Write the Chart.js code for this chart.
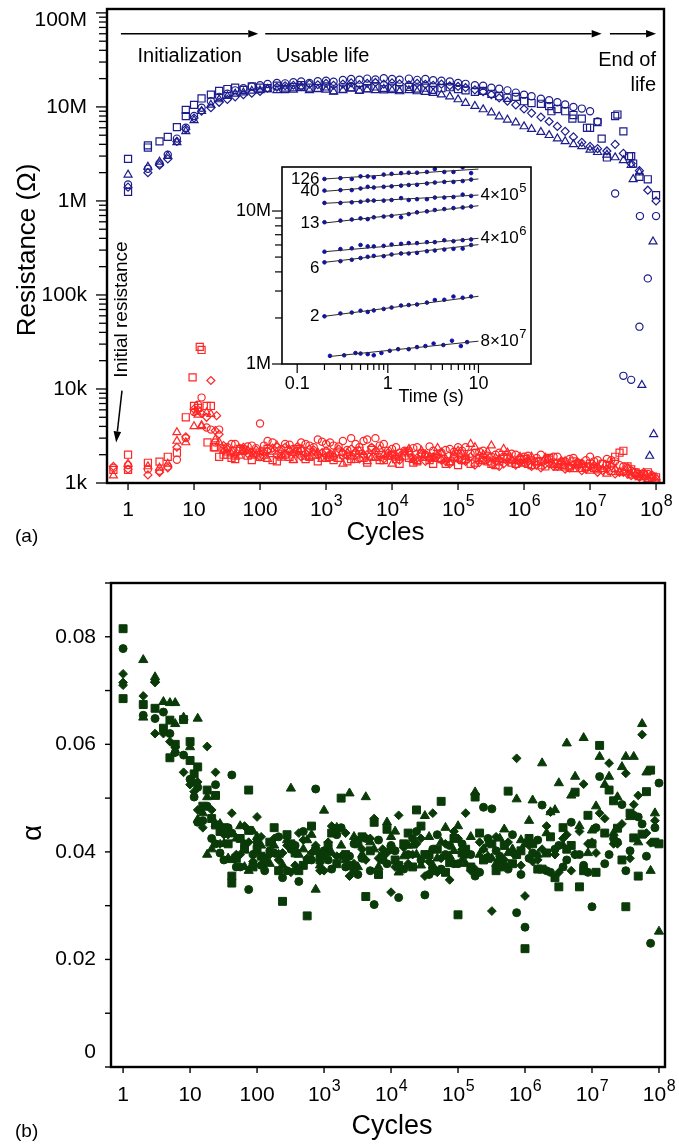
<!DOCTYPE html>
<html>
<head>
<meta charset="utf-8">
<script src="https://cdn.jsdelivr.net/npm/chart.js@4.4.1/dist/chart.umd.min.js"></script>
<style>
  html, body { margin: 0; padding: 0; background: #fff; }
  #wrap { position: relative; width: 679px; height: 1144px; overflow: hidden; }
  canvas { position: absolute; }
  #cA { left: 0; top: 0; width: 679px; height: 560px; }
  #cIn { left: 228px; top: 158px; width: 317px; height: 250px; }
  #cB { left: 0; top: 560px; width: 679px; height: 584px; }
</style>
</head>
<body>
<div id="wrap">
  <canvas id="cA" width="679" height="560"></canvas>
  <canvas id="cIn" width="317" height="250"></canvas>
  <canvas id="cB" width="679" height="584"></canvas>
</div>
<script>
// ---------- panel (a): resistance vs cycles ----------
const cyclesA = [0.6, 1, 2, 3, 4, 5.5, 7.5,
  10, 13, 18, 24, 32, 42, 56, 75,
  100, 130, 180, 240, 320, 420, 560, 750,
  1e3, 1.3e3, 1.8e3, 2.4e3, 3.2e3, 4.2e3, 5.6e3, 7.5e3,
  1e4, 1.3e4, 1.8e4, 2.4e4, 3.2e4, 4.2e4, 5.6e4, 7.5e4,
  1e5, 1.3e5, 1.8e5, 2.4e5, 3.2e5, 4.2e5, 5.6e5, 7.5e5,
  1e6, 1.3e6, 1.8e6, 2.4e6, 3.2e6, 4.2e6, 5.6e6, 7.5e6,
  1e7, 1.3e7, 1.8e7, 2.4e7, 3.2e7, 4.2e7, 5.6e7, 7.5e7,
  1e8];
// second measurement grid (other devices), used in both panels
const cyclesMid = [11.5, 15.5, 21, 28, 37, 49, 65, 87,
  115, 155, 210, 280, 370, 490, 650, 870,
  1.15e3, 1.55e3, 2.1e3, 2.8e3, 3.7e3, 4.9e3, 6.5e3, 8.7e3,
  1.15e4, 1.55e4, 2.1e4, 2.8e4, 3.7e4, 4.9e4, 6.5e4, 8.7e4,
  1.15e5, 1.55e5, 2.1e5, 2.8e5, 3.7e5, 4.9e5, 6.5e5, 8.7e5,
  1.15e6, 1.55e6, 2.1e6, 2.8e6, 3.7e6, 4.9e6, 6.5e6, 8.7e6,
  1.15e7, 1.55e7, 2.1e7, 2.8e7, 3.7e7, 4.9e7, 6.5e7, 8.7e7];

// high-resistance state, MΩ
const hiSquare = [null, 2.8, 3.7, 4.3, 4.8, 6.1, 8.0,
  10.5, 12.3, 13.5, 14.8, 15.5, 16.0, 15.2, 16.5,
  16.0, 15.8, 16.8, 15.5, 16.2, 17.0, 16.0, 15.8,
  16.5, 15.0, 15.6, 16.2, 15.2, 15.8, 16.5, 15.4,
  16.0, 15.5, 16.3, 15.7, 16.0, 15.2, 15.8, 16.2,
  15.5, 15.0, 14.5, 14.8, 13.8, 13.0, 12.5, 12.8,
  11.5, 11.0, 10.8, 10.2, 9.5, 9.0, 8.2, 7.5,
  6.0, 6.9, 2.9, 8.0, 5.5, 3.0, 1.8, 1.7,
  1.15];
const hiCircle = [null, 1.5, 2.2, 2.5, 3.1, 4.6, 6.0,
  8.0, 9.8, 11.5, 12.8, 13.8, 15.0, 15.8, 16.5,
  17.0, 17.5, 18.0, 17.8, 18.3, 18.6, 18.0, 18.8,
  19.0, 18.5, 19.3, 19.8, 19.5, 20.0, 19.6, 20.2,
  19.8, 19.5, 20.0, 19.4, 19.8, 19.2, 19.0, 18.6,
  18.0, 17.6, 17.0, 16.8, 16.0, 15.6, 15.0, 14.2,
  13.5, 13.0, 12.2, 11.8, 11.2, 10.6, 10.0, 9.6,
  9.0, 7.0, null, 1.2, 0.0138, 0.0125, 0.046, 0.15,
  0.69];
const hiTriangle = [null, 1.9, 2.3, 2.6, 3.0, 4.2, 5.5,
  7.2, 9.0, 10.5, 12.0, 13.0, 13.8, 14.2, 14.8,
  15.0, 15.4, 15.0, 15.6, 15.2, 15.8, 15.0, 15.5,
  15.2, 14.5, 15.0, 15.6, 14.8, 15.3, 15.0, 15.5,
  15.0, 14.6, 15.0, 14.6, 14.4, 14.0, 13.5, 12.9,
  12.0, 11.0, 10.2, 9.4, 8.7, 7.9, 7.3, 6.8,
  6.2, 5.8, 5.4, 5.0, 4.6, 4.3, 4.0, 3.8,
  3.5, 3.3, 3.1, 2.9, 2.7, 2.4, 2.0, null,
  null];
const hiDiamond = [null, 1.4, 2.0, 2.4, 2.8, 4.3, 5.8,
  7.6, 9.0, 9.8, 11.2, 12.0, 12.8, 13.5, 14.0,
  14.6, 15.8, 16.2, 16.8, 17.0, 16.5, 17.5, 17.2,
  17.8, 17.0, 17.5, 18.0, 17.3, 17.8, 18.2, 17.5,
  18.0, 17.6, 17.2, 17.8, 17.4, 17.0, 17.5, 16.8,
  16.5, 16.0, 15.2, 14.5, 13.5, 12.5, 11.5, 10.5,
  9.5, 8.6, 7.8, 7.0, 6.2, 5.5, 4.8, 4.2,
  3.8, 3.6, 3.4, 4.0, 3.2, 2.5, 2.1, 1.3,
  1.0];
// extra high-state points off the common grid (second device, failures)
const hiSquareXtraX = [1, 2, 7.5, 2.6e6, 5.4e6, 9e6, 1.5e7, 2.6e7, 3.9e7, 4.5e7];
const hiSquareXtraY = [1.25, 3.9, 9.3, 9.0, 7.5, 6.0, 4.6, 8.3, 3.0, 2.5];
const hiCircleXtraX = [5.7e7];
const hiCircleXtraY = [0.69];
const hiTriangleXtraX = [4.5e7, 6.1e7, 8e7, 9e7, 9.2e7];
const hiTriangleXtraY = [1.7, 0.011, 0.00194, 0.37, 0.0033];

// low-resistance state, kΩ
const loSquare = [1.38, 2.0, 1.64, 1.69, 1.9, 2.1, 5.0,
  6.6, 26, 6.6, 1.9, 2.0, 1.8, 2.2, 1.75,
  1.9, 2.3, 1.7, 2.0, 1.8, 2.2, 1.9, 1.7,
  2.1, 1.75, 2.0, 1.8, 2.2, 1.65, 1.9, 1.75,
  2.0, 1.6, 1.85, 1.7, 1.9, 1.6, 1.8, 1.7,
  1.55, 1.8, 1.65, 1.75, 1.6, 1.7, 1.9, 1.6,
  1.8, 1.55, 1.7, 1.85, 1.6, 1.5, 1.7, 1.45,
  1.6, 1.4, 1.55, 1.9, 2.2, 1.4, 1.25, 1.3,
  1.15];
const loCircle = [1.45, 1.55, 1.4, 1.35, 1.5, 1.77, 3.0,
  5.7, 8.1, 3.7, 3.7, 2.4, 2.6, 2.3, 2.5,
  4.3, 2.8, 2.4, 2.6, 2.3, 2.7, 2.5, 2.9,
  2.6, 2.5, 2.8, 3.0, 2.4, 2.9, 3.0, 2.6,
  2.3, 2.1, 2.2, 2.4, 2.0, 2.2, 2.1, 2.3,
  2.4, 2.4, 2.1, 2.2, 1.9, 2.1, 1.85, 2.0,
  1.9, 1.75, 2.0, 1.8, 1.9, 1.7, 1.85, 1.6,
  1.9, 1.75, 1.8, 1.7, 1.5, 1.35, 1.2, 1.25,
  1.1];
const loTriangle = [1.2, 1.6, 1.5, 1.45, 1.6, 3.46, 2.7,
  4.0, 4.0, 5.4, 2.7, 2.1, 1.9, 2.2, 1.95,
  2.1, 1.8, 2.5, 2.0, 1.75, 2.3, 1.9, 2.1,
  1.8, 2.0, 1.6, 1.9, 2.2, 1.7, 1.85, 2.0,
  1.6, 1.9, 2.3, 1.7, 2.0, 1.8, 2.1, 1.65,
  2.2, 1.9, 2.4, 2.0, 2.5, 1.8, 2.1, 1.7,
  1.6, 1.9, 1.5, 1.75, 1.45, 1.7, 1.4, 1.6,
  1.35, 1.5, 1.25, 1.4, 1.3, 1.2, 1.15, 1.1,
  1.15];
const loDiamond = [1.5, 1.4, 1.22, 1.3, 1.45, 2.4, 3.1,
  6.1, 5.5, 12.3, 3.3, 2.3, 2.0, 2.4, 2.1,
  1.9, 2.2, 2.0, 2.4, 2.1, 1.9, 2.3, 2.0,
  2.2, 1.9, 2.1, 2.3, 1.8, 2.0, 2.2, 1.8,
  2.0, 1.75, 2.1, 1.85, 1.7, 1.9, 1.75, 1.6,
  1.8, 1.7, 1.55, 1.75, 1.6, 1.5, 1.7, 1.55,
  1.65, 1.5, 1.45, 1.6, 1.5, 1.4, 1.55, 1.35,
  1.5, 1.3, 1.4, 1.25, 1.3, 1.2, 1.15, 1.1,
  1.05];
// low state, second device (cyclesMid), kΩ
const loSquare2 = [6.3, 6.6, 2.4, 2.0, 1.85, 2.3, 1.95, 2.1,
  2.2, 1.75, 2.05, 1.9, 2.3, 1.8, 2.0, 1.85,
  1.9, 2.15, 1.7, 2.0, 1.85, 2.25, 1.75, 1.95,
  1.8, 1.95, 1.65, 2.05, 1.75, 1.85, 1.6, 1.9,
  1.75, 1.6, 1.85, 1.7, 1.55, 1.8, 1.65, 1.75,
  1.6, 1.7, 1.5, 1.65, 1.55, 1.45, 1.6, 1.5,
  1.45, 1.6, 1.35, 2.1, 1.5, 1.3, 1.2, 1.15];
const loCircle2 = [6.8, 3.9, 2.7, 2.3, 2.6, 2.2, 2.45, 2.35,
  2.5, 2.7, 2.3, 2.55, 2.2, 2.6, 2.4, 2.75,
  2.7, 2.45, 2.25, 2.6, 2.8, 2.35, 2.5, 2.2,
  2.4, 2.2, 2.35, 2.1, 2.45, 2.05, 2.25, 2.15,
  2.2, 2.05, 2.15, 1.95, 2.0, 1.9, 2.05, 1.85,
  1.95, 1.85, 1.75, 1.9, 1.7, 1.8, 1.65, 1.75,
  1.7, 1.6, 1.75, 1.55, 1.45, 1.3, 1.25, 1.2];
const loTriangle2 = [5.3, 5.6, 2.9, 2.2, 2.05, 1.95, 2.2, 2.0,
  1.95, 2.15, 1.85, 2.25, 2.0, 1.9, 2.1, 1.8,
  1.95, 1.8, 2.1, 1.75, 2.0, 1.85, 2.3, 1.9,
  1.85, 2.05, 1.75, 2.2, 1.9, 2.35, 1.8, 2.0,
  2.05, 2.6, 1.95, 2.15, 1.85, 2.3, 1.75, 1.9,
  1.8, 1.65, 1.85, 1.55, 1.7, 1.5, 1.65, 1.45,
  1.55, 1.4, 1.6, 1.3, 1.45, 1.25, 1.15, 1.2];
const loDiamond2 = [6.0, 5.0, 3.6, 2.5, 2.2, 2.35, 2.05, 2.25,
  2.1, 2.35, 1.95, 2.2, 2.45, 2.05, 2.25, 2.1,
  2.05, 2.3, 1.95, 2.15, 2.0, 2.4, 1.9, 2.1,
  1.95, 2.15, 1.85, 2.0, 1.8, 1.95, 1.7, 1.85,
  1.75, 1.9, 1.65, 1.8, 1.7, 1.6, 1.75, 1.65,
  1.7, 1.55, 1.6, 1.5, 1.65, 1.45, 1.55, 1.4,
  1.45, 1.35, 1.5, 1.3, 1.25, 1.2, 1.3, 1.15];
const loSquareXtraX = [1, 9.5, 12.2, 16, 20];
const loSquareXtraY = [1.38, 13.3, 28, 2.7, 2.4];
const loTriangleXtraX = [5.5, 11, 13];
const loTriangleXtraY = [2.8, 5.7, 4.1];
const loDiamondXtraX = [22];
const loDiamondXtraY = [5.2];

// ---------- inset: resistance relaxation vs time ----------
const insetTimes = [0.2, 0.3, 0.4, 0.5, 0.6, 0.7, 0.9, 1.1, 1.4, 1.7, 2.1, 2.7, 3.3, 4.2, 5.3, 6.7, 8.3];
const insetTimesLate = [0.23, 0.33, 0.44, 0.5, 0.6, 0.7, 0.85, 1.05, 1.3, 1.7, 2.1, 2.6, 3.2, 4.1, 5.1, 6.4, 7.5];
const relax126 = [16.2, 16.4, 16.2, 16.85, 16.85, 16.6, 17.3, 17.5, 17.7, 17.8, 17.8, 18.0, 18.8, 18.0, 18.0, 19.3, 17.7];
const relax40 = [13.6, 13.7, 13.7, 14.05, 14.4, 14.25, 14.4, 14.5, 14.65, 14.8, 14.85, 15.15, 15.35, 15.5, 15.5, 15.7, 16.05];
const relax4e5 = [11.3, 11.3, 11.4, 11.5, 11.7, 11.7, 11.7, 11.8, 12.15, 11.8, 11.95, 11.95, 12.25, 12.25, 12.35, 12.8, 12.55];
const relax13 = [8.45, 8.65, 8.8, 8.95, 8.85, 9.1, 9.2, 9.3, 9.1, 9.55, 9.8, 9.95, 10.15, 10.3, 10.45, 10.55, 10.7];
const relax4e6 = [5.42, 5.64, 5.7, 6.0, 5.87, 5.87, 5.92, 6.04, 6.1, 6.17, 6.17, 6.26, 6.26, 6.44, 6.35, 6.45, 6.52];
const relax6 = [4.62, 4.7, 4.8, 4.93, 5.02, 5.09, 5.07, 5.2, 5.28, 5.28, 5.33, 5.46, 5.52, 5.6, 5.66, 5.68, 6.0];
const relax2 = [2.05, 2.14, 2.17, 2.23, 2.19, 2.24, 2.29, 2.34, 2.41, 2.43, 2.45, 2.52, 2.62, 2.63, 2.76, 2.71, 2.76];
const relax8e7 = [1.13, 1.14, 1.18, 1.17, 1.16, 1.14, 1.18, 1.22, 1.25, 1.25, 1.29, 1.31, 1.36, 1.33, 1.42, 1.31, 1.39];
// power-law fits, MΩ at start time and at 10 s
const fitStartTime = [0.2, 0.2, 0.2, 0.2, 0.2, 0.2, 0.2, 0.23];
const fitStart = [16.2, 13.45, 11.23, 8.35, 5.42, 4.62, 2.05, 1.12];
const fitEnd = [18.8, 16.2, 12.72, 10.83, 6.63, 6.03, 2.77, 1.41];
const curveLeftLabels = ['126', '40', '', '13', '', '6', '2', ''];
const curveRightBase = ['', '', '4×10', '', '4×10', '', '', '8×10'];
const curveRightExp = ['', '', '5', '', '6', '', '', '7'];

// ---------- panel (b): alpha vs cycles ----------
const cyclesB = [1, 2, 3, 4, 5, 6, 8,
  10, 13, 18, 24, 32, 42, 56, 75,
  100, 130, 180, 240, 320, 420, 560, 750,
  1e3, 1.3e3, 1.8e3, 2.4e3, 3.2e3, 4.2e3, 5.6e3, 7.5e3,
  1e4, 1.3e4, 1.8e4, 2.4e4, 3.2e4, 4.2e4, 5.6e4, 7.5e4,
  1e5, 1.3e5, 1.8e5, 2.4e5, 3.2e5, 4.2e5, 5.6e5, 7.5e5,
  1e6, 1.3e6, 1.8e6, 2.4e6, 3.2e6, 4.2e6, 5.6e6, 7.5e6,
  1e7, 1.3e7, 1.8e7, 2.4e7, 3.2e7, 4.2e7, 5.6e7, 7.5e7,
  1e8];
const alphaSquare = [0.0815, 0.0674, 0.0667, 0.063, 0.0645, 0.060, 0.0646,
  0.057, 0.0558, 0.0515, 0.045, 0.0445, 0.0342, 0.0425, 0.0515,
  0.0405, 0.0385, 0.0445, 0.0308, 0.0415, 0.0365, 0.0281, 0.0402,
  0.0395, 0.0435, 0.050, 0.0375, 0.0415, 0.0317, 0.0455, 0.0392,
  0.0405, 0.0375, 0.0435, 0.0478, 0.0395, 0.0365, 0.0494, 0.038,
  0.0283, 0.0405, 0.0502, 0.0385, 0.0415, 0.0372, 0.0513, 0.0395,
  0.022, 0.0415, 0.0368, 0.0428, 0.0335, 0.0405, 0.0511, 0.0365,
  0.0415, 0.0598, 0.0515, 0.0444, 0.0298, 0.0426, 0.0433, 0.0552,
  0.0415];
const alphaCircle = [0.0778, 0.0654, 0.0648, 0.066, 0.062, 0.0585, 0.058,
  0.0535, 0.052, 0.0485, 0.0415, 0.0385, 0.0543, 0.0372, 0.033,
  0.0418, 0.0365, 0.0398, 0.0352, 0.0405, 0.0345, 0.0385, 0.0517,
  0.0402, 0.0368, 0.0445, 0.0392, 0.0358, 0.0425, 0.0302, 0.0385,
  0.0412, 0.0315, 0.0395, 0.0438, 0.032, 0.0405, 0.0368, 0.0412,
  0.0378, 0.0395, 0.0355, 0.0483, 0.048, 0.0392, 0.0368, 0.0287,
  0.026, 0.0398, 0.0487, 0.0362, 0.0412, 0.0385, 0.0395, 0.0375,
  0.0298, 0.054, 0.0395, 0.0418, 0.0365, 0.0468, 0.0452, 0.023,
  0.0528];
const alphaTriangle = [null, 0.0757, 0.072, 0.0679, 0.0677, 0.0638, 0.065,
  0.0595, 0.0648, 0.0502, 0.0452, 0.0415, 0.0385, 0.0448, 0.0365,
  0.0428, 0.0388, 0.0412, 0.0376, 0.0518, 0.0395, 0.0422, 0.033,
  0.0477, 0.0398, 0.0412, 0.0509, 0.0372, 0.0502, 0.0405, 0.0385,
  0.0428, 0.0362, 0.0412, 0.0395, 0.0467, 0.0375, 0.0418, 0.0392,
  0.0448, 0.0378, 0.0511, 0.0405, 0.0388, 0.0425, 0.0398, 0.0498,
  0.0415, 0.0496, 0.0565, 0.0474, 0.0528, 0.0602, 0.054, 0.0612,
  0.044, 0.0577, 0.054, 0.0502, 0.0577, 0.0577, 0.0638, 0.0365,
  0.0252];
const alphaDiamond = [0.0731, 0.069, 0.062, 0.062, 0.0605, 0.0595, 0.0548,
  0.0525, 0.0478, 0.0596, 0.0548, 0.0432, 0.0472, 0.0395, 0.0418,
  0.0465, 0.0378, 0.0425, 0.0398, 0.0362, 0.0435, 0.0388, 0.0412,
  0.0365, 0.0448, 0.0392, 0.0355, 0.0421, 0.0385, 0.0462, 0.0405,
  0.0325, 0.0468, 0.0378, 0.0415, 0.0355, 0.0472, 0.0388, 0.0348,
  0.0425, 0.0472, 0.0368, 0.0405, 0.029, 0.0385, 0.0418, 0.0574,
  0.0318, 0.0382, 0.0405, 0.0474, 0.0362, 0.0432, 0.0395, 0.0526,
  0.0418, 0.0472, 0.0565, 0.0415, 0.0546, 0.0488, 0.0618, 0.0417,
  null];
// second device (cyclesMid)
const alphaSquare2 = [0.0545, 0.0485, 0.0462, 0.0438, 0.0415, 0.0388, 0.0405, 0.0372,
  0.0392, 0.0418, 0.0365, 0.0432, 0.0398, 0.0375, 0.0448, 0.0385,
  0.0412, 0.0378, 0.0395, 0.0365, 0.0428, 0.0402, 0.0358, 0.0442,
  0.0385, 0.0415, 0.0372, 0.0448, 0.0395, 0.0405, 0.0362, 0.0425,
  0.0398, 0.0372, 0.0435, 0.0388, 0.0365, 0.0412, 0.0378, 0.0402,
  0.0425, 0.0368, 0.0398, 0.0352, 0.0445, 0.0412, 0.0335, 0.0468,
  0.0362, 0.0435, 0.0495, 0.0385, 0.0472, 0.0355, 0.0512, 0.0418];
const alphaCircle2 = [0.0502, 0.0458, 0.0425, 0.0398, 0.0445, 0.0372, 0.0415, 0.0395,
  0.0375, 0.0402, 0.0428, 0.0365, 0.0412, 0.0438, 0.0385, 0.0395,
  0.0385, 0.0432, 0.0372, 0.0415, 0.0388, 0.0365, 0.0422, 0.0378,
  0.0402, 0.0368, 0.0425, 0.0385, 0.0358, 0.0432, 0.0395, 0.0378,
  0.0415, 0.0395, 0.0362, 0.0425, 0.0402, 0.0375, 0.0432, 0.0358,
  0.0388, 0.0422, 0.0365, 0.0405, 0.0372, 0.0455, 0.0395, 0.0362,
  0.0445, 0.0378, 0.0425, 0.0488, 0.0402, 0.0465, 0.0392, 0.0445];
const alphaTriangle2 = [0.0528, 0.0472, 0.0405, 0.0452, 0.0388, 0.0425, 0.0372, 0.0438,
  0.0412, 0.0378, 0.0395, 0.0422, 0.0368, 0.0405, 0.0432, 0.0375,
  0.0402, 0.0445, 0.0385, 0.0428, 0.0395, 0.0418, 0.0372, 0.0455,
  0.0438, 0.0392, 0.0412, 0.0375, 0.0428, 0.0388, 0.0445, 0.0402,
  0.0385, 0.0428, 0.0395, 0.0415, 0.0378, 0.0442, 0.0405, 0.0422,
  0.0458, 0.0395, 0.0435, 0.0478, 0.0412, 0.0505, 0.0448, 0.0398,
  0.0485, 0.0525, 0.0435, 0.0558, 0.0465, 0.0418, 0.0548, 0.0472];
const alphaDiamond2 = [0.0512, 0.0445, 0.0478, 0.0415, 0.0432, 0.0395, 0.0448, 0.0382,
  0.0428, 0.0395, 0.0385, 0.0412, 0.0375, 0.0422, 0.0398, 0.0365,
  0.0418, 0.0392, 0.0435, 0.0378, 0.0405, 0.0425, 0.0388, 0.0398,
  0.0372, 0.0408, 0.0395, 0.0425, 0.0382, 0.0362, 0.0415, 0.0438,
  0.0405, 0.0365, 0.0418, 0.0392, 0.0428, 0.0385, 0.0398, 0.0375,
  0.0412, 0.0385, 0.0448, 0.0395, 0.0425, 0.0365, 0.0438, 0.0415,
  0.0398, 0.0462, 0.0415, 0.0452, 0.0388, 0.0505, 0.0435, 0.0458];
const alphaSquareXtraX = [1, 5, 10, 24, 42, 75];
const alphaSquareXtraY = [0.0685, 0.0575, 0.0605, 0.0505, 0.0355, 0.044];
const alphaCircleXtraX = [13, 24, 42];
const alphaCircleXtraY = [0.0455, 0.0525, 0.0435];
const alphaTriangleXtraX = [2, 3, 6, 13, 18];
const alphaTriangleXtraY = [0.065, 0.0725, 0.0677, 0.046, 0.0395];
const alphaDiamondXtraX = [1, 1, 3, 6, 13];
const alphaDiamondXtraY = [0.0715, 0.071, 0.0715, 0.0585, 0.053];

// ---------- ticks ----------
const decadeTicks = [1, 10, 100, 1e3, 1e4, 1e5, 1e6, 1e7, 1e8];
const decadeBase = ['1', '10', '100', '10', '10', '10', '10', '10', '10'];
const decadeExp = ['', '', '', '3', '4', '5', '6', '7', '8'];
const resTicks = [1e3, 1e4, 1e5, 1e6, 1e7, 1e8];
const resLabels = ['1k', '10k', '100k', '1M', '10M', '100M'];
const alphaTicks = [0, 0.01, 0.02, 0.03, 0.04, 0.05, 0.06, 0.07, 0.08, 0.09];
const alphaLabels = ['0', '', '0.02', '', '0.04', '', '0.06', '', '0.08', ''];
const timeTicks = [0.1, 1, 10];
const timeLabels = ['0.1', '1', '10'];
const insetResTicks = [1e6, 1e7];
const insetResLabels = ['1M', '10M'];

// ---------- helpers ----------
const FONT = '"Liberation Sans", Arial, Helvetica, sans-serif';
const BLUE = '#1c1c8c', RED = '#ff2626', GREEN = '#0a3a08';

function pts(xs, ys, k) {
  const out = [];
  xs.forEach((x, i) => { if (ys[i] != null) out.push({ x: x, y: ys[i] * k }); });
  return out;
}
function ds(data, style, r, color, filled) {
  return {
    data: data, pointStyle: style, pointRadius: r, pointHoverRadius: r,
    pointBorderWidth: filled ? 1 : 1.2, pointBorderColor: color,
    pointBackgroundColor: filled ? color : 'rgba(0,0,0,0)', showLine: false
  };
}
function minorLog(lo, hi) {
  const out = [];
  for (let e = Math.floor(Math.log10(lo)); e <= Math.ceil(Math.log10(hi)); e++) {
    for (let m = 2; m <= 9; m++) {
      const v = m * Math.pow(10, e);
      if (v > lo && v < hi) out.push(v);
    }
  }
  return out;
}
function seg(ctx, x1, y1, x2, y2) {
  ctx.beginPath(); ctx.moveTo(x1, y1); ctx.lineTo(x2, y2); ctx.stroke();
}
function text(ctx, s, x, y, size, align) {
  ctx.font = size + 'px ' + FONT;
  ctx.textAlign = align || 'center';
  ctx.textBaseline = 'middle';
  ctx.fillText(s, x, y);
}
function vText(ctx, s, x, y, size) {
  ctx.save(); ctx.translate(x, y); ctx.rotate(-Math.PI / 2);
  text(ctx, s, 0, 0, size, 'center');
  ctx.restore();
}
function powText(ctx, base, exp, x, y, size, align) {
  const es = Math.round(size * 0.78);
  ctx.font = size + 'px ' + FONT;
  const wb = ctx.measureText(base).width;
  ctx.font = es + 'px ' + FONT;
  const we = exp ? ctx.measureText(exp).width : 0;
  const w = wb + we;
  const x0 = align === 'center' ? x - w / 2 : align === 'right' ? x - w : x;
  ctx.textAlign = 'left'; ctx.textBaseline = 'middle';
  ctx.font = size + 'px ' + FONT;
  ctx.fillText(base, x0, y);
  if (exp) { ctx.font = es + 'px ' + FONT; ctx.fillText(exp, x0 + wb + 0.5, y - size * 0.4); }
}
function arrow(ctx, x1, y1, x2, y2, head, half) {
  const ang = Math.atan2(y2 - y1, x2 - x1);
  const bx = x2 - head * Math.cos(ang), by = y2 - head * Math.sin(ang);
  seg(ctx, x1, y1, bx, by);
  ctx.beginPath();
  ctx.moveTo(x2, y2);
  ctx.lineTo(bx + half * Math.sin(ang), by - half * Math.cos(ang));
  ctx.lineTo(bx - half * Math.sin(ang), by + half * Math.cos(ang));
  ctx.closePath(); ctx.fill();
}
function hiddenAxis(type, min, max, size, vertical) {
  return {
    type: type, min: min, max: max,
    ticks: { display: false }, grid: { display: false }, border: { display: false },
    afterFit: s => { if (vertical) s.width = size; else s.height = size; }
  };
}
function baseOptions(padding, scales) {
  return {
    responsive: false, animation: false, events: [],
    layout: { padding: padding, autoPadding: false },
    plugins: { legend: { display: false }, tooltip: { enabled: false } },
    scales: scales
  };
}

// ---------- panel (a) ----------
const panelAPlugin = {
  id: 'panelA',
  afterDraw(chart) {
    const ctx = chart.ctx, a = chart.chartArea;
    const xs = chart.scales.x, ys = chart.scales.y;
    ctx.save();
    ctx.strokeStyle = '#000'; ctx.fillStyle = '#000'; ctx.lineWidth = 1.3;
    minorLog(1e3, 1.1e8).forEach(v => {
      const p = ys.getPixelForValue(v); seg(ctx, a.left - 8, p, a.left, p);
    });
    resTicks.forEach((v, i) => {
      const p = ys.getPixelForValue(v);
      seg(ctx, a.left - 11, p, a.left, p);
      text(ctx, resLabels[i], a.left - 20, v === 1e8 ? p + 7 : p, 21, 'right');
    });
    decadeTicks.forEach((v, i) => {
      const p = xs.getPixelForValue(v);
      seg(ctx, p, a.bottom, p, a.bottom + 7);
      powText(ctx, decadeBase[i], decadeExp[i], p, a.bottom + 27, 21, 'center');
    });
    ctx.lineWidth = 2.4;
    ctx.strokeRect(a.left, a.top, a.right - a.left, a.bottom - a.top);
    text(ctx, 'Cycles', (a.left + a.right) / 2, a.bottom + 50, 26, 'center');
    vText(ctx, 'Resistance (Ω)', 28, 250, 26);
    text(ctx, '(a)', 15, 537, 19, 'left');

    // life-stage annotations
    ctx.lineWidth = 1.5;
    const ay = ys.getPixelForValue(60e6);
    arrow(ctx, xs.getPixelForValue(0.78), ay, xs.getPixelForValue(94), ay, 10, 3.8);
    arrow(ctx, xs.getPixelForValue(120), ay, xs.getPixelForValue(1.5e7), ay, 10, 3.8);
    arrow(ctx, xs.getPixelForValue(2e7), ay, xs.getPixelForValue(1e8), ay, 10, 3.8);
    const ty = ys.getPixelForValue(34e6);
    text(ctx, 'Initialization', xs.getPixelForValue(8.6), ty, 20, 'center');
    text(ctx, 'Usable life', xs.getPixelForValue(175), ty, 20, 'left');
    text(ctx, 'End of', xs.getPixelForValue(1e8), ys.getPixelForValue(31e6), 20, 'right');
    text(ctx, 'life', xs.getPixelForValue(1e8), ys.getPixelForValue(17e6), 20, 'right');
    vText(ctx, 'Initial resistance', xs.getPixelForValue(0.79), ys.getPixelForValue(70e3), 19);
    arrow(ctx, xs.getPixelForValue(0.81), ys.getPixelForValue(9.6e3),
      xs.getPixelForValue(0.66), ys.getPixelForValue(2.7e3), 11, 3.8);
    ctx.restore();
  }
};

const M = 1e6, K = 1e3;
new Chart(document.getElementById('cA'), {
  type: 'scatter',
  data: {
    datasets: [
      ds(pts(cyclesA, hiSquare, M), 'rect', 5, BLUE, false),
      ds(pts(hiSquareXtraX, hiSquareXtraY, M), 'rect', 5, BLUE, false),
      ds(pts(cyclesA, hiCircle, M), 'circle', 3.6, BLUE, false),
      ds(pts(hiCircleXtraX, hiCircleXtraY, M), 'circle', 3.6, BLUE, false),
      ds(pts(cyclesA, hiTriangle, M), 'triangle', 4.6, BLUE, false),
      ds(pts(hiTriangleXtraX, hiTriangleXtraY, M), 'triangle', 4.6, BLUE, false),
      ds(pts(cyclesA, hiDiamond, M), 'rectRot', 4, BLUE, false),
      ds(pts(cyclesA, loSquare, K), 'rect', 5, RED, false),
      ds(pts(cyclesMid, loSquare2, K), 'rect', 5, RED, false),
      ds(pts(loSquareXtraX, loSquareXtraY, K), 'rect', 5, RED, false),
      ds(pts(cyclesA, loCircle, K), 'circle', 3.6, RED, false),
      ds(pts(cyclesMid, loCircle2, K), 'circle', 3.6, RED, false),
      ds(pts(cyclesA, loTriangle, K), 'triangle', 4.6, RED, false),
      ds(pts(cyclesMid, loTriangle2, K), 'triangle', 4.6, RED, false),
      ds(pts(loTriangleXtraX, loTriangleXtraY, K), 'triangle', 4.6, RED, false),
      ds(pts(cyclesA, loDiamond, K), 'rectRot', 4, RED, false),
      ds(pts(cyclesMid, loDiamond2, K), 'rectRot', 4, RED, false),
      ds(pts(loDiamondXtraX, loDiamondXtraY, K), 'rectRot', 4, RED, false)
    ]
  },
  options: baseOptions({ left: 0, right: 15, top: 9, bottom: 0 }, {
    x: hiddenAxis('logarithmic', 0.48, 1.32e8, 77, false),
    y: hiddenAxis('logarithmic', 1e3, 1.1e8, 107, true)
  }),
  plugins: [panelAPlugin]
});

// ---------- inset ----------
const insetPlugin = {
  id: 'inset',
  beforeDraw(chart) {
    const ctx = chart.ctx;
    ctx.save(); ctx.fillStyle = '#fff'; ctx.fillRect(0, 0, chart.width, chart.height); ctx.restore();
  },
  afterDraw(chart) {
    const ctx = chart.ctx, a = chart.chartArea;
    const xs = chart.scales.x, ys = chart.scales.y;
    ctx.save();
    ctx.strokeStyle = '#000'; ctx.fillStyle = '#000'; ctx.lineWidth = 1.2;
    minorLog(1e6, 19.4e6).forEach(v => {
      const p = ys.getPixelForValue(v); seg(ctx, a.left - 7, p, a.left, p);
    });
    insetResTicks.forEach((v, i) => {
      const p = ys.getPixelForValue(v);
      seg(ctx, a.left - 10, p, a.left, p);
      text(ctx, insetResLabels[i], a.left - 11, p, 18, 'right');
    });
    minorLog(0.1, 10).forEach(v => {
      const p = xs.getPixelForValue(v); seg(ctx, p, a.bottom, p, a.bottom + 6);
    });
    timeTicks.forEach((v, i) => {
      const p = xs.getPixelForValue(v);
      seg(ctx, p, a.bottom, p, a.bottom + 9);
      text(ctx, timeLabels[i], p, a.bottom + 20, 18, 'center');
    });
    text(ctx, 'Time (s)', xs.getPixelForValue(3), a.bottom + 33, 18, 'center');
    ctx.lineWidth = 1.6;
    ctx.strokeRect(a.left, a.top, a.right - a.left, a.bottom - a.top);
    fitStart.forEach((v, i) => {
      if (curveLeftLabels[i]) {
        const dy = curveLeftLabels[i] === '6' ? 6 : 0;
        text(ctx, curveLeftLabels[i], xs.getPixelForValue(fitStartTime[i]) - 5,
          ys.getPixelForValue(v * M) + dy, 17, 'right');
      }
      if (curveRightBase[i]) {
        powText(ctx, curveRightBase[i], curveRightExp[i], xs.getPixelForValue(10) + 2,
          ys.getPixelForValue(fitEnd[i] * M), 17, 'left');
      }
    });
    ctx.restore();
  }
};

const relaxSets = [relax126, relax40, relax4e5, relax13, relax4e6, relax6, relax2, relax8e7];
const insetDatasets = [];
relaxSets.forEach((vals, i) => {
  insetDatasets.push({
    data: [{ x: fitStartTime[i], y: fitStart[i] * M }, { x: 10, y: fitEnd[i] * M }],
    showLine: true, borderColor: '#2a2a2a', borderWidth: 1, pointRadius: 0
  });
  const t = i === 7 ? insetTimesLate : insetTimes;
  insetDatasets.push(ds(pts(t, vals, M), 'circle', 1.8, '#1010a8', true));
});
new Chart(document.getElementById('cIn'), {
  type: 'scatter',
  data: { datasets: insetDatasets },
  options: baseOptions({ left: 0, right: 14, top: 9, bottom: 0 }, {
    x: hiddenAxis('logarithmic', 0.068, 38, 44, false),
    y: hiddenAxis('logarithmic', 1e6, 19.4e6, 54, true)
  }),
  plugins: [insetPlugin]
});

// ---------- panel (b) ----------
const panelBPlugin = {
  id: 'panelB',
  afterDraw(chart) {
    const ctx = chart.ctx, a = chart.chartArea;
    const xs = chart.scales.x, ys = chart.scales.y;
    ctx.save();
    ctx.strokeStyle = '#000'; ctx.fillStyle = '#000'; ctx.lineWidth = 1.4;
    alphaTicks.forEach((v, i) => {
      const p = ys.getPixelForValue(v);
      seg(ctx, a.left - 6, p, a.left, p);
      if (alphaLabels[i]) text(ctx, alphaLabels[i], a.left - 15, v === 0 ? p - 15 : p, 21, 'right');
    });
    decadeTicks.forEach((v, i) => {
      const p = xs.getPixelForValue(v);
      seg(ctx, p, a.bottom, p, a.bottom + 6);
      powText(ctx, decadeBase[i], decadeExp[i], p, a.bottom + 28, 21, 'center');
    });
    ctx.lineWidth = 2.4;
    ctx.strokeRect(a.left, a.top, a.right - a.left, a.bottom - a.top);
    text(ctx, 'Cycles', (a.left + a.right) / 2 + 4, a.bottom + 60, 27, 'center');
    vText(ctx, 'α', 33, 273, 28);
    text(ctx, '(b)', 15, 572, 19, 'left');
    ctx.restore();
  }
};

new Chart(document.getElementById('cB'), {
  type: 'scatter',
  data: {
    datasets: [
      ds(pts(cyclesB, alphaSquare, 1), 'rect', 5.6, GREEN, true),
      ds(pts(cyclesMid, alphaSquare2, 1), 'rect', 5.6, GREEN, true),
      ds(pts(alphaSquareXtraX, alphaSquareXtraY, 1), 'rect', 5.6, GREEN, true),
      ds(pts(cyclesB, alphaCircle, 1), 'circle', 4, GREEN, true),
      ds(pts(cyclesMid, alphaCircle2, 1), 'circle', 4, GREEN, true),
      ds(pts(alphaCircleXtraX, alphaCircleXtraY, 1), 'circle', 4, GREEN, true),
      ds(pts(cyclesB, alphaTriangle, 1), 'triangle', 5.3, GREEN, true),
      ds(pts(cyclesMid, alphaTriangle2, 1), 'triangle', 5.3, GREEN, true),
      ds(pts(alphaTriangleXtraX, alphaTriangleXtraY, 1), 'triangle', 5.3, GREEN, true),
      ds(pts(cyclesB, alphaDiamond, 1), 'rectRot', 4.4, GREEN, true),
      ds(pts(cyclesMid, alphaDiamond2, 1), 'rectRot', 4.4, GREEN, true),
      ds(pts(alphaDiamondXtraX, alphaDiamondXtraY, 1), 'rectRot', 4.4, GREEN, true)
    ]
  },
  options: baseOptions({ left: 0, right: 14, top: 23, bottom: 0 }, {
    x: hiddenAxis('logarithmic', 0.66, 1.23e8, 77, false),
    y: hiddenAxis('linear', 0, 0.09, 111, true)
  }),
  plugins: [panelBPlugin]
});
</script>
</body>
</html>
